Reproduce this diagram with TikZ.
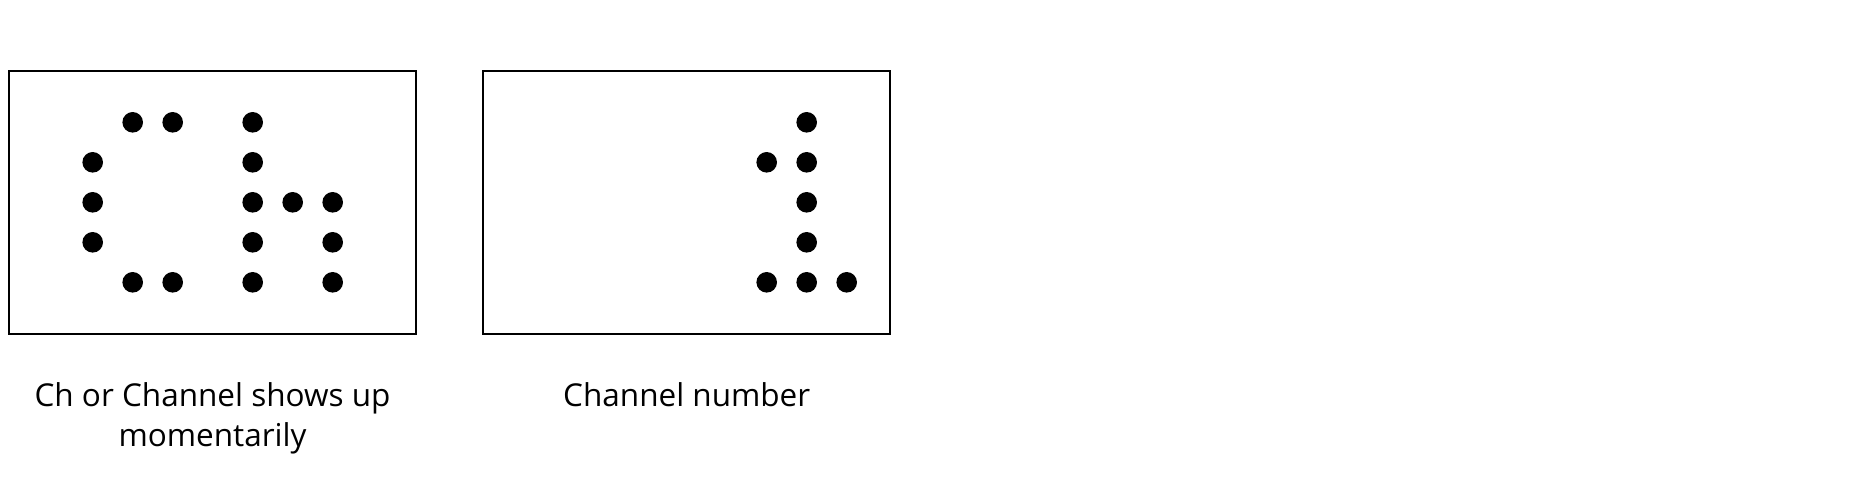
\documentclass[tikz,border=0pt]{standalone}
\usepackage{fontspec}
\setmainfont{Open Sans}
\begin{document}
\begin{tikzpicture}[x=1pt,y=-1pt,
  panel/.style={draw=black,line width=2pt,minimum width=407pt,minimum height=263pt,inner sep=0pt,fill=white},
  dot/.style={fill=black},
  caption/.style={align=center,font=\fontsize{31.5}{40}\selectfont,inner sep=0pt,anchor=base}]
\useasboundingbox[fill=white] (0,0) rectangle (1856,501);
\node[panel] (p1) at (212.5,202.5) {};
\node[panel] (p2) at (686.7,202.5) {};
% "Ch" dots
\foreach \x/\y in {132.7/122.3,172.7/122.3,252.7/122.3,
                   92.7/162.3,252.7/162.3,
                   92.7/202.3,252.7/202.3,292.7/202.3,332.7/202.3,
                   92.7/242.3,252.7/242.3,332.7/242.3,
                   132.7/282.3,172.7/282.3,252.7/282.3,332.7/282.3}
  \fill[dot] (\x,\y) circle[radius=10.3];
% "1" dots
\foreach \x/\y in {806.7/122.3,
                   766.7/162.3,806.7/162.3,
                   806.7/202.3,
                   806.7/242.3,
                   766.7/282.3,806.7/282.3,846.7/282.3}
  \fill[dot] (\x,\y) circle[radius=10.3];
\node[caption] (c1) at (212.5,446) {Ch or Channel shows up\\momentarily};
\node[caption] (c2) at (686.7,406) {Channel number};
\end{tikzpicture}
\end{document}
